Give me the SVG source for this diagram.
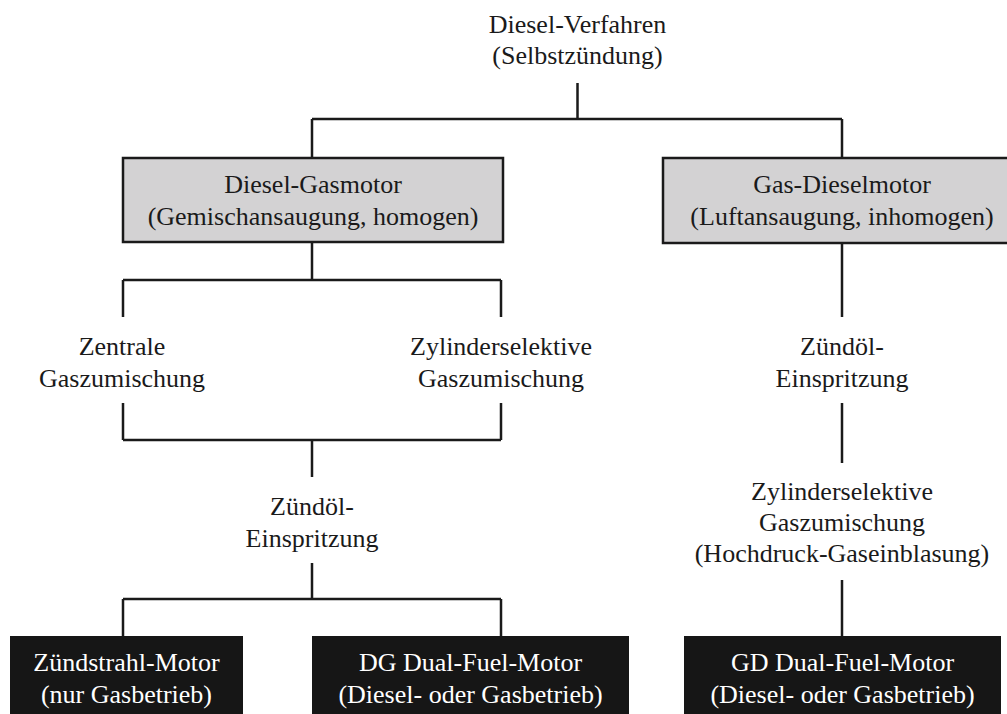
<svg xmlns="http://www.w3.org/2000/svg" width="1007" height="714" viewBox="0 0 1007 714">
<style>
  text { font-family: "Liberation Serif", "Times New Roman", serif; font-size: 26px; text-anchor: middle; fill: #1a1a1a; }
  .w { fill: #ffffff; }
  .gray { fill: #d3d2d3; stroke: #1a1a1a; stroke-width: 2.5; }
  .black { fill: #161616; stroke: none; }
  .conn { fill: none; stroke: #1a1a1a; stroke-width: 2.5; }
</style>
<rect width="1007" height="714" fill="#ffffff"/>
<g id="connectors">
  <path class="conn" d="M577.5 83 V119 M312 119 H842 M312 119 V158 M842 119 V158"/>
  <path class="conn" d="M312 242 V280 M123 280 H501 M123 280 V317 M501 280 V317"/>
  <path class="conn" d="M123 403 V440 M501 403 V440 M123 440 H501 M312 440 V477"/>
  <path class="conn" d="M312 563 V599 M123 599 H501 M123 599 V636 M501 599 V636"/>
  <path class="conn" d="M842 243 V317 M842 403 V463 M842 580 V636"/>
</g>
<g id="root">
  <text x="577.5" y="33">Diesel-Verfahren</text>
  <text x="577.5" y="64">(Selbstzündung)</text>
</g>
<g id="diesel-gasmotor">
  <rect class="gray" x="123" y="158" width="380" height="84"/>
  <text x="313" y="193">Diesel-Gasmotor</text>
  <text x="313" y="225">(Gemischansaugung, homogen)</text>
</g>
<g id="gas-dieselmotor">
  <rect class="gray" x="663" y="158" width="360" height="85"/>
  <text x="842" y="193">Gas-Dieselmotor</text>
  <text x="842" y="225">(Luftansaugung, inhomogen)</text>
</g>
<g id="zentrale">
  <text x="122" y="355">Zentrale</text>
  <text x="122" y="387">Gaszumischung</text>
</g>
<g id="zylinderselektiv-links">
  <text x="501" y="355">Zylinderselektive</text>
  <text x="501" y="387">Gaszumischung</text>
</g>
<g id="zuendoel-links">
  <text x="312" y="515">Zündöl-</text>
  <text x="312" y="547">Einspritzung</text>
</g>
<g id="zuendoel-rechts">
  <text x="842" y="355">Zündöl-</text>
  <text x="842" y="387">Einspritzung</text>
</g>
<g id="zylinderselektiv-rechts">
  <text x="842" y="500">Zylinderselektive</text>
  <text x="842" y="531">Gaszumischung</text>
  <text x="842" y="562">(Hochdruck-Gaseinblasung)</text>
</g>
<g id="zuendstrahl-motor">
  <rect class="black" x="10" y="636" width="233" height="78"/>
  <text class="w" x="126.5" y="671">Zündstrahl-Motor</text>
  <text class="w" x="126.5" y="703">(nur Gasbetrieb)</text>
</g>
<g id="dg-dual-fuel">
  <rect class="black" x="312" y="636" width="317" height="78"/>
  <text class="w" x="470.5" y="671">DG Dual-Fuel-Motor</text>
  <text class="w" x="470.5" y="703">(Diesel- oder Gasbetrieb)</text>
</g>
<g id="gd-dual-fuel">
  <rect class="black" x="684" y="636" width="317" height="78"/>
  <text class="w" x="842.5" y="671">GD Dual-Fuel-Motor</text>
  <text class="w" x="842.5" y="703">(Diesel- oder Gasbetrieb)</text>
</g>
</svg>
